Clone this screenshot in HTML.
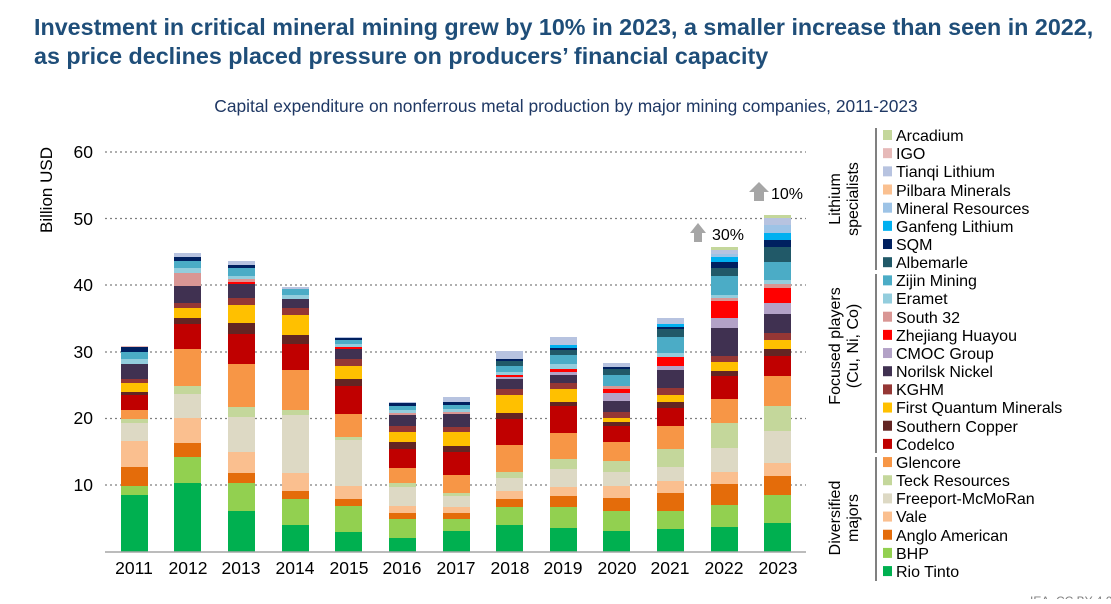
<!DOCTYPE html>
<html><head><meta charset="utf-8"><style>
body{margin:0;background:#fff;width:1111px;height:599px;overflow:hidden;font-family:"Liberation Sans",Arial,sans-serif}
</style></head><body>
<svg id="s" width="1111" height="599" xmlns="http://www.w3.org/2000/svg" font-family="Liberation Sans, Arial, sans-serif">
<text x="34" y="35" font-size="23.3" font-weight="bold" fill="#1f4e79">Investment in critical mineral mining grew by 10% in 2023, a smaller increase than seen in 2022,</text>
<text x="34" y="64" font-size="23.3" font-weight="bold" fill="#1f4e79">as price declines placed pressure on producers’ financial capacity</text>
<text x="566" y="112" font-size="17.4" fill="#1f3864" text-anchor="middle">Capital expenditure on nonferrous metal production by major mining companies, 2011-2023</text>
<text transform="translate(52,190) rotate(-90)" font-size="17" fill="#000" text-anchor="middle">Billion USD</text>
<g stroke="#7f7f7f" stroke-width="1.3" stroke-dasharray="2,3">
<line x1="105" x2="806" y1="152" y2="152"/><line x1="105" x2="806" y1="218.5" y2="218.5"/><line x1="105" x2="806" y1="285" y2="285"/><line x1="105" x2="806" y1="352" y2="352"/><line x1="105" x2="806" y1="418.5" y2="418.5"/><line x1="105" x2="806" y1="485" y2="485"/>
</g>
<g font-size="17.5" fill="#000" text-anchor="end">
<text x="93" y="158">60</text><text x="93" y="225">50</text><text x="93" y="291">40</text><text x="93" y="358">30</text><text x="93" y="424">20</text><text x="93" y="491">10</text>
</g>
<g id="bars"></g>
<line x1="105" x2="806" y1="552" y2="552" stroke="#a6a6a6" stroke-width="1.5"/>
<g font-size="17.5" fill="#000" text-anchor="middle">
<text x="134" y="574">2011</text><text x="188" y="574">2012</text><text x="241" y="574">2013</text><text x="295" y="574">2014</text><text x="349" y="574">2015</text><text x="402" y="574">2016</text><text x="456" y="574">2017</text><text x="510" y="574">2018</text><text x="563" y="574">2019</text><text x="617" y="574">2020</text><text x="670" y="574">2021</text><text x="724" y="574">2022</text><text x="778" y="574">2023</text>
</g>
<polygon points="690,233 698,223 706,233 702,233 702,242 694,242 694,233" fill="#a6a6a6"/>
<text x="712" y="240" font-size="16" fill="#000">30%</text>
<polygon points="749,192 759,182 769,192 764,192 764,201 754,201 754,192" fill="#a6a6a6"/>
<text x="771" y="199" font-size="16" fill="#000">10%</text>
<g stroke="#000" stroke-width="1"><line x1="876" x2="876" y1="128" y2="270"/><line x1="876" x2="876" y1="274" y2="453"/><line x1="876" x2="876" y1="457" y2="581"/></g>
<g font-size="16" fill="#000" text-anchor="middle">
<text transform="translate(840,199) rotate(-90)">Lithium</text>
<text transform="translate(858,199) rotate(-90)">specialists</text>
<text transform="translate(840,346) rotate(-90)">Focused players</text>
<text transform="translate(858,346) rotate(-90)">(Cu, Ni, Co)</text>
<text transform="translate(840,518) rotate(-90)">Diversified</text>
<text transform="translate(858,518) rotate(-90)">majors</text>
</g>
<g id="leg" font-size="16" fill="#000">
<text x="896" y="141">Arcadium</text><text x="896" y="159">IGO</text><text x="896" y="177">Tianqi Lithium</text><text x="896" y="196">Pilbara Minerals</text><text x="896" y="214">Mineral Resources</text><text x="896" y="232">Ganfeng Lithium</text><text x="896" y="250">SQM</text><text x="896" y="268">Albemarle</text><text x="896" y="286">Zijin Mining</text><text x="896" y="304">Eramet</text><text x="896" y="323">South 32</text><text x="896" y="341">Zhejiang Huayou</text><text x="896" y="359">CMOC Group</text><text x="896" y="377">Norilsk Nickel</text><text x="896" y="395">KGHM</text><text x="896" y="413">First Quantum Minerals</text><text x="896" y="432">Southern Copper</text><text x="896" y="450">Codelco</text><text x="896" y="468">Glencore</text><text x="896" y="486">Teck Resources</text><text x="896" y="504">Freeport-McMoRan</text><text x="896" y="522">Vale</text><text x="896" y="541">Anglo American</text><text x="896" y="559">BHP</text><text x="896" y="577">Rio Tinto</text>
</g>
<g id="sw"></g>
<text x="1030" y="605" font-size="12" fill="#7f7f7f">IEA. CC BY 4.0</text>
</svg>
<script>
var C={rt:"#00b050",bhp:"#92d050",aa:"#e46c0a",va:"#fabf8f",fm:"#ddd9c4",te:"#c4d79b",gl:"#f79646",co:"#c00000",sc:"#632523",fq:"#ffc000",kg:"#953735",no:"#403151",cm:"#b3a2c7",zh:"#ff0000",s32:"#d99694",er:"#93cddd",zi:"#4bacc6",al:"#215968",sq:"#002060",ga:"#00b0f0",mr:"#9dc3e6",pi:"#fac090",ti:"#b7c3e0",ig:"#e6b9b8",ar:"#c4d79b"};
var legK=["ar","ig","ti","pi","mr","ga","sq","al","zi","er","s32","zh","cm","no","kg","fq","sc","co","gl","te","fm","va","aa","bhp","rt"];
var sw="";legK.forEach(function(k,i){sw+='<rect x="883" y="'+(130+i*18.17)+'" width="9" height="10" fill="'+C[k]+'"/>';});
document.getElementById("sw").innerHTML=sw;
var B=[
[121,[["rt",495],["bhp",486],["aa",467],["va",441],["fm",423],["te",419],["gl",410],["co",395],["sc",392],["fq",383],["kg",379],["no",364],["er",359],["zi",352],["sq",347],["ig",346]]],
[174,[["rt",483],["bhp",457],["aa",443],["va",418],["fm",394],["te",386],["gl",349],["co",324],["sc",318],["fq",308],["kg",303],["no",286],["s32",273],["er",268],["zi",261],["sq",257],["ti",253]]],
[228,[["rt",511],["bhp",483],["aa",473],["va",452],["fm",417],["te",407],["gl",364],["co",334],["sc",323],["fq",305],["kg",298],["no",284],["zh",282],["s32",279],["er",276],["zi",268],["sq",265],["ti",261]]],
[282,[["rt",525],["bhp",499],["aa",491],["va",473],["fm",415],["te",410],["gl",370],["co",344],["sc",335],["fq",315],["kg",308],["no",299],["er",295],["zi",289],["ti",287]]],
[335,[["rt",532],["bhp",506],["aa",499],["va",486],["fm",440],["te",437],["gl",414],["co",386],["sc",379],["fq",366],["kg",359],["no",349],["zh",347],["er",344],["zi",340],["sq",338],["ti",337]]],
[389,[["rt",538],["bhp",519],["aa",513],["va",506],["fm",487],["te",483],["gl",468],["co",449],["sc",442],["fq",432],["kg",426],["no",415],["s32",413],["er",410],["zi",406],["sq",403],["ti",402]]],
[443,[["rt",531],["bhp",519],["aa",513],["va",507],["fm",496],["te",493],["gl",475],["co",452],["sc",446],["fq",432],["kg",427],["no",414],["s32",412],["er",409],["zi",405],["sq",402],["ti",397]]],
[496,[["rt",525],["bhp",507],["aa",499],["va",491],["fm",478],["te",472],["gl",445],["co",419],["sc",413],["fq",395],["kg",389],["no",379],["cm",377],["zh",375],["er",372],["zi",366],["al",361],["sq",359],["ti",351]]],
[550,[["rt",528],["bhp",507],["aa",496],["va",487],["fm",469],["te",459],["gl",433],["co",406],["sc",402],["fq",389],["kg",383],["no",375],["cm",372],["zh",369],["er",364],["zi",355],["al",350],["sq",348],["ga",345],["ti",337]]],
[603,[["rt",531],["bhp",511],["aa",498],["va",486],["fm",472],["te",461],["gl",442],["co",426],["sc",422],["fq",418],["kg",412],["no",401],["cm",393],["zh",389],["s32",386],["zi",375],["al",369],["sq",367],["ti",363]]],
[657,[["rt",529],["bhp",511],["aa",493],["va",481],["fm",467],["te",449],["gl",426],["co",408],["sc",402],["fq",395],["kg",388],["no",370],["cm",366],["zh",357],["er",353],["zi",337],["al",329],["sq",327],["ga",324],["ti",318]]],
[711,[["rt",527],["bhp",505],["aa",484],["va",472],["fm",448],["te",423],["gl",399],["co",376],["sc",371],["fq",362],["kg",356],["no",328],["cm",318],["zh",301],["s32",298],["er",295],["zi",276],["al",268],["sq",262],["ga",257],["mr",254],["ti",250],["ar",247]]],
[764,[["rt",523],["bhp",495],["aa",476],["va",463],["fm",431],["te",406],["gl",376],["co",356],["sc",349],["fq",340],["kg",333],["no",314],["cm",303],["zh",288],["s32",284],["er",280],["zi",262],["al",247],["sq",240],["ga",233],["mr",225],["ti",218],["ar",215]]]
];
var h="";B.forEach(function(b){var prev=552;b[1].forEach(function(s){h+='<rect x="'+b[0]+'" y="'+s[1]+'" width="27" height="'+(prev-s[1])+'" fill="'+C[s[0]]+'"/>';prev=s[1];});});
document.getElementById("bars").innerHTML=h;
</script>
</body></html>
